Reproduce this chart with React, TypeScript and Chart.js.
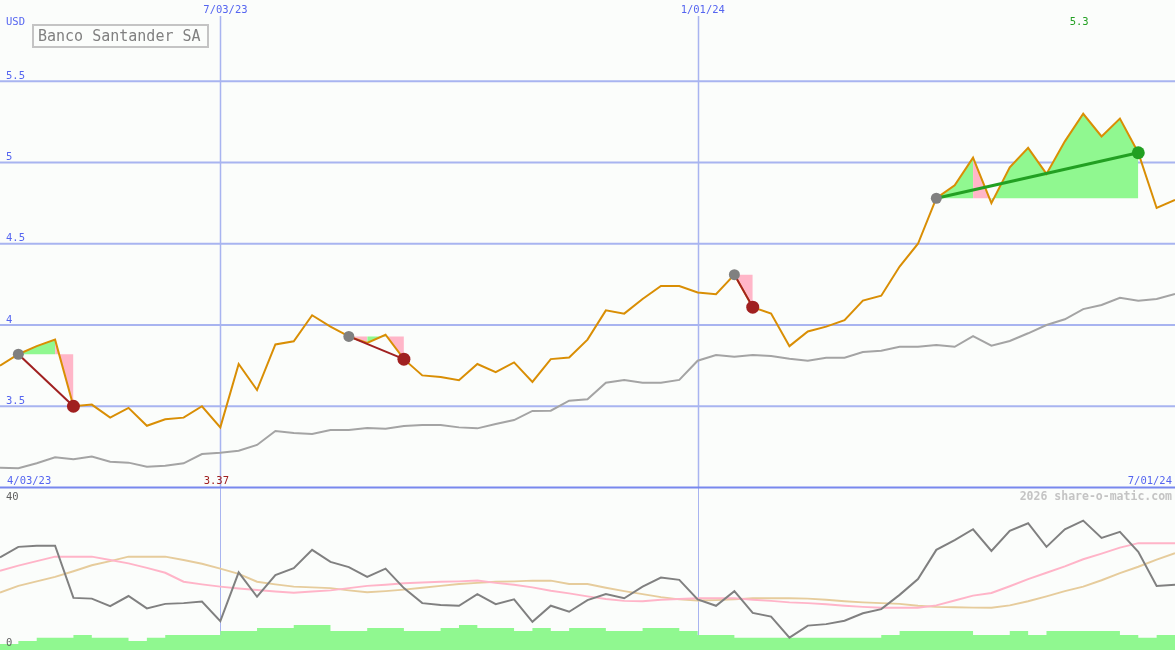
import React, { useEffect, useRef } from 'react';
import { Chart, registerables } from 'chart.js';

Chart.register(...registerables);

// ---------- data ----------
const title = 'Banco Santander SA';
const unitLabel = 'USD';
const credit = '2026 share-o-matic.com';

// weekly closing price (USD), 65 weeks
const price = [
  3.75, 3.82, 3.87, 3.91, 3.50, 3.51, 3.43, 3.49, 3.38, 3.42,
  3.43, 3.50, 3.37, 3.76, 3.60, 3.88, 3.90, 4.06, 3.99, 3.93,
  3.89, 3.94, 3.79, 3.69, 3.68, 3.66, 3.76, 3.71, 3.77, 3.65,
  3.79, 3.80, 3.91, 4.09, 4.07, 4.16, 4.24, 4.24, 4.20, 4.19,
  4.31, 4.11, 4.07, 3.87, 3.96, 3.99, 4.03, 4.15, 4.18, 4.36,
  4.50, 4.78, 4.86, 5.03, 4.75, 4.97, 5.09, 4.93, 5.13, 5.30,
  5.16, 5.27, 5.06, 4.72, 4.77,
];

// slow grey line in the price panel
const trend = [
  3.122, 3.118, 3.149, 3.186, 3.174, 3.190, 3.159, 3.153, 3.128, 3.134,
  3.149, 3.206, 3.214, 3.226, 3.262, 3.348, 3.335, 3.329, 3.354, 3.354,
  3.366, 3.362, 3.378, 3.385, 3.385, 3.370, 3.364, 3.391, 3.415, 3.471,
  3.473, 3.534, 3.543, 3.645, 3.662, 3.645, 3.645, 3.662, 3.780, 3.815,
  3.805, 3.815, 3.809, 3.793, 3.780, 3.799, 3.799, 3.834, 3.842, 3.866,
  3.866, 3.877, 3.866, 3.932, 3.873, 3.902, 3.949, 4.000, 4.035, 4.098,
  4.123, 4.168, 4.150, 4.160, 4.191,
];

// lower panel: oscillator and its two averages
const oscillator = [
  24.7, 27.5, 27.8, 27.8, 13.9, 13.7, 11.7, 14.4, 11.1, 12.3,
  12.5, 12.9, 7.7, 20.7, 14.2, 20.0, 21.8, 26.7, 23.5, 22.1,
  19.5, 21.7, 16.5, 12.5, 12.0, 11.8, 14.9, 12.2, 13.5, 7.5,
  11.8, 10.2, 13.3, 14.9, 13.8, 16.9, 19.3, 18.7, 13.5, 11.8,
  15.7, 9.9, 8.9, 3.3, 6.5, 6.9, 7.8, 9.8, 10.9, 14.7,
  18.9, 26.7, 29.3, 32.2, 26.4, 31.8, 33.8, 27.5, 32.2, 34.5,
  29.9, 31.5, 26.2, 17.1, 17.4,
];
const oscAvgPink = [
  21.1, 22.5, 23.7, 24.9, 24.9, 24.9, 24.0, 23.1, 21.9, 20.6,
  18.2, 17.5, 16.9, 16.4, 16.0, 15.6, 15.3, 15.6, 15.9, 16.5,
  17.1, 17.4, 17.8, 18.0, 18.2, 18.3, 18.5, 17.9, 17.4, 16.7,
  15.8, 15.1, 14.3, 13.6, 13.1, 13.0, 13.4, 13.6, 13.8, 13.8,
  13.8, 13.4, 13.1, 12.7, 12.5, 12.2, 11.8, 11.5, 11.3, 11.3,
  11.3, 11.9, 13.2, 14.5, 15.2, 17.0, 18.9, 20.6, 22.3, 24.2,
  25.7, 27.3, 28.5, 28.5, 28.5,
];
const oscAvgTan = [
  15.3, 17.1, 18.3, 19.5, 21.0, 22.6, 23.7, 24.9, 24.9, 24.9,
  24.0, 23.0, 21.7, 20.3, 18.2, 17.5, 16.9, 16.7, 16.5, 15.9,
  15.4, 15.7, 16.1, 16.6, 17.1, 17.6, 17.9, 18.2, 18.3, 18.5,
  18.5, 17.6, 17.6, 16.6, 15.7, 14.9, 14.1, 13.5, 13.2, 13.3,
  13.5, 13.8, 13.8, 13.8, 13.7, 13.4, 13.0, 12.7, 12.5, 12.3,
  11.8, 11.5, 11.4, 11.3, 11.3, 11.9, 13.0, 14.3, 15.7, 16.9,
  18.6, 20.5, 22.2, 24.1, 25.8,
];
const volume = [
  1.6, 2.4, 3.3, 3.3, 4.0, 3.3, 3.3, 2.4, 3.3, 4.0,
  4.0, 4.0, 5.1, 5.1, 5.9, 5.9, 6.7, 6.7, 5.1, 5.1,
  5.9, 5.9, 5.1, 5.1, 5.9, 6.7, 5.9, 5.9, 5.1, 5.9,
  5.1, 5.9, 5.9, 5.1, 5.1, 5.9, 5.9, 5.1, 4.0, 4.0,
  3.3, 3.3, 3.3, 3.3, 3.3, 3.3, 3.3, 3.3, 4.0, 5.1,
  5.1, 5.1, 5.1, 4.0, 4.0, 5.1, 4.0, 5.1, 5.1, 5.1,
  5.1, 4.0, 3.3, 4.0, 4.0,
];

// trades (week indices)
const entryIdx = [1, 19, 40, 51];
const exitIdx = [4, 22, 41, 62];

// axes
const priceGrid = [3.5, 4, 4.5, 5, 5.5];
const priceBase = 3.0;
const dateTickIdx = [12, 38];
const dateTickLabels = ['7/03/23', '1/01/24'];
const startDateLabel = '4/03/23';
const endDateLabel = '7/01/24';
const lowerTicks = [40, 0];

// ---------- style ----------
const W = 1175;
const H = 650;
const BG = '#fbfdfb';
const FONT = '"DejaVu Sans Mono", "Liberation Mono", monospace';
const BLUE_TXT = '#5565f0';
const GRID = '#a8b4f0';
const AXIS = '#7888ee';
const ORANGE = '#d98e04';
const FILL_UP = '#90f890';
const FILL_DOWN = '#ffb6c8';
const WIN = '#22a022';
const LOSS = '#a02020';

const pts = (arr: number[]) => arr.map((v, i) => ({ x: i, y: v }));

function buildDatasets() {
  const ds: any[] = [];
  // trade lines + markers (top)
  entryIdx.forEach((e, t) => {
    const x = exitIdx[t];
    const win = price[x] > price[e];
    ds.push({
      data: [{ x: e, y: price[e] }, { x, y: price[x] }],
      yAxisID: 'y',
      borderColor: win ? WIN : LOSS,
      borderWidth: win ? 3 : 2,
      pointRadius: [5.5, 6.5],
      pointBorderWidth: 0,
      pointBackgroundColor: ['#808080', win ? WIN : LOSS],
      fill: false,
      order: 0,
    });
  });
  // price
  ds.push({
    data: pts(price), yAxisID: 'y', borderColor: ORANGE, borderWidth: 2,
    pointRadius: 0, fill: false, order: 1,
  });
  // trade fills, grouped into runs of weeks ending above / below the entry price
  entryIdx.forEach((e, t) => {
    const x = exitIdx[t];
    const level = price[e];
    let k = e;
    while (k < x) {
      const up = price[k + 1] > level;
      let m = k + 1;
      while (m < x && (price[m + 1] > level) === up) m++;
      const run: { x: number; y: number }[] = [];
      for (let j = k; j <= m; j++) run.push({ x: j, y: price[j] });
      ds.push({
        data: run,
        yAxisID: 'y',
        borderColor: 'rgba(0,0,0,0)', borderWidth: 0, pointRadius: 0,
        backgroundColor: up ? FILL_UP : FILL_DOWN,
        fill: { value: level },
        order: 2,
      });
      k = m;
    }
  });
  // grey trend
  ds.push({
    data: pts(trend), yAxisID: 'y', borderColor: '#a4a4a4', borderWidth: 2,
    pointRadius: 0, fill: false, order: 3,
  });
  // lower panel
  ds.push({
    data: pts(oscillator), yAxisID: 'y2', borderColor: '#808080', borderWidth: 2,
    pointRadius: 0, fill: false, order: 4,
  });
  ds.push({
    data: pts(oscAvgPink), yAxisID: 'y2', borderColor: '#ffb4c8', borderWidth: 2,
    pointRadius: 0, fill: false, order: 5,
  });
  ds.push({
    data: pts(oscAvgTan), yAxisID: 'y2', borderColor: '#e6cc9c', borderWidth: 2,
    pointRadius: 0, fill: false, order: 6,
  });
  ds.push({
    data: pts(volume), yAxisID: 'y2', borderColor: 'rgba(0,0,0,0)', borderWidth: 0,
    backgroundColor: FILL_UP, pointRadius: 0, stepped: 'before', fill: 'start', order: 7,
  });
  return ds;
}

const fmt = (v: number) => String(Number(v.toFixed(2)));

const decor = {
  id: 'decor',
  beforeDraw(chart: any) {
    const ctx = chart.ctx;
    ctx.save();
    ctx.fillStyle = BG;
    ctx.fillRect(0, 0, W, H);
    ctx.restore();
  },
  beforeDatasetsDraw(chart: any) {
    const ctx = chart.ctx;
    const xs = chart.scales.x;
    const ys = chart.scales.y;
    ctx.save();
    ctx.strokeStyle = GRID;
    ctx.lineWidth = 2;
    priceGrid.forEach((v) => {
      const y = ys.getPixelForValue(v);
      ctx.beginPath(); ctx.moveTo(0, y); ctx.lineTo(W, y); ctx.stroke();
    });
    const yb = ys.getPixelForValue(priceBase);
    dateTickIdx.forEach((i) => {
      const x = Math.round(xs.getPixelForValue(i)) + 0.5;
      ctx.strokeStyle = GRID;
      ctx.lineWidth = 1.5;
      ctx.beginPath(); ctx.moveTo(x, 16); ctx.lineTo(x, yb); ctx.stroke();
      ctx.lineWidth = 1;
      ctx.beginPath(); ctx.moveTo(x, yb); ctx.lineTo(x, H); ctx.stroke();
    });
    ctx.strokeStyle = AXIS;
    ctx.lineWidth = 2;
    ctx.beginPath(); ctx.moveTo(0, yb); ctx.lineTo(W, yb); ctx.stroke();
    ctx.restore();
  },
  afterDatasetsDraw(chart: any) {
    const ctx = chart.ctx;
    const xs = chart.scales.x;
    const ys = chart.scales.y;
    const y2 = chart.scales.y2;
    const yb = ys.getPixelForValue(priceBase);
    ctx.save();
    ctx.font = `10.5px ${FONT}`;
    ctx.textBaseline = 'alphabetic';
    ctx.fillStyle = BLUE_TXT;
    ctx.textAlign = 'left';
    ctx.fillText(unitLabel, 6, 25);
    priceGrid.forEach((v) => {
      ctx.fillText(fmt(v), 6, ys.getPixelForValue(v) - 2.5);
    });
    dateTickIdx.forEach((i, k) => {
      ctx.fillText(dateTickLabels[k], xs.getPixelForValue(i) - 17, 13);
    });
    ctx.fillText(startDateLabel, 7, yb - 3.5);
    ctx.textAlign = 'right';
    ctx.fillText(endDateLabel, W - 3, yb - 3.5);

    // min / max labels
    let mi = 0, ma = 0;
    price.forEach((v, i) => { if (v < price[mi]) mi = i; if (v > price[ma]) ma = i; });
    ctx.textAlign = 'center';
    ctx.fillStyle = LOSS;
    ctx.fillText(fmt(price[mi]), xs.getPixelForValue(mi) - 4, yb - 3.5);
    ctx.fillStyle = WIN;
    ctx.fillText(fmt(price[ma]), xs.getPixelForValue(ma) - 4, 25);

    // lower panel ticks
    ctx.textAlign = 'left';
    ctx.fillStyle = '#606060';
    lowerTicks.forEach((v) => {
      ctx.fillText(String(v), 6, Math.min(y2.getPixelForValue(v), H - 4));
    });

    // credit
    ctx.font = `bold 11.5px ${FONT}`;
    ctx.textAlign = 'right';
    ctx.fillStyle = '#c4c4c4';
    ctx.fillText(credit, W - 3, y2.getPixelForValue(40));

    // title box
    ctx.fillStyle = BG;
    ctx.fillRect(33, 25, 175, 22);
    ctx.strokeStyle = '#c4c4c4';
    ctx.lineWidth = 2;
    ctx.strokeRect(33, 25, 175, 22);
    ctx.font = `15px ${FONT}`;
    ctx.textAlign = 'left';
    ctx.fillStyle = '#808080';
    ctx.fillText(title, 38, 41);
    ctx.restore();
  },
};

export default function App() {
  const ref = useRef<HTMLCanvasElement>(null);
  useEffect(() => {
    const canvas = ref.current;
    if (!canvas) return;
    const chart = new Chart(canvas, {
      type: 'line',
      data: { datasets: buildDatasets() },
      options: {
        responsive: false,
        animation: false,
        devicePixelRatio: 1,
        events: [],
        layout: { padding: 0, autoPadding: false },
        plugins: { legend: { display: false }, tooltip: { enabled: false } },
        elements: { line: { tension: 0 } },
        scales: {
          x: { type: 'linear', min: 0, max: price.length - 1, display: false },
          y: { type: 'linear', min: 2, max: 6, display: false },
          y2: { type: 'linear', min: 0, max: (40 * H) / 150, display: false },
        },
      },
      plugins: [decor],
    } as any);
    return () => chart.destroy();
  }, []);
  return (
    <div style={{ position: 'absolute', left: 0, top: 0, width: W, height: H }}>
      <canvas ref={ref} width={W} height={H} style={{ display: 'block', width: W, height: H }} />
    </div>
  );
}
